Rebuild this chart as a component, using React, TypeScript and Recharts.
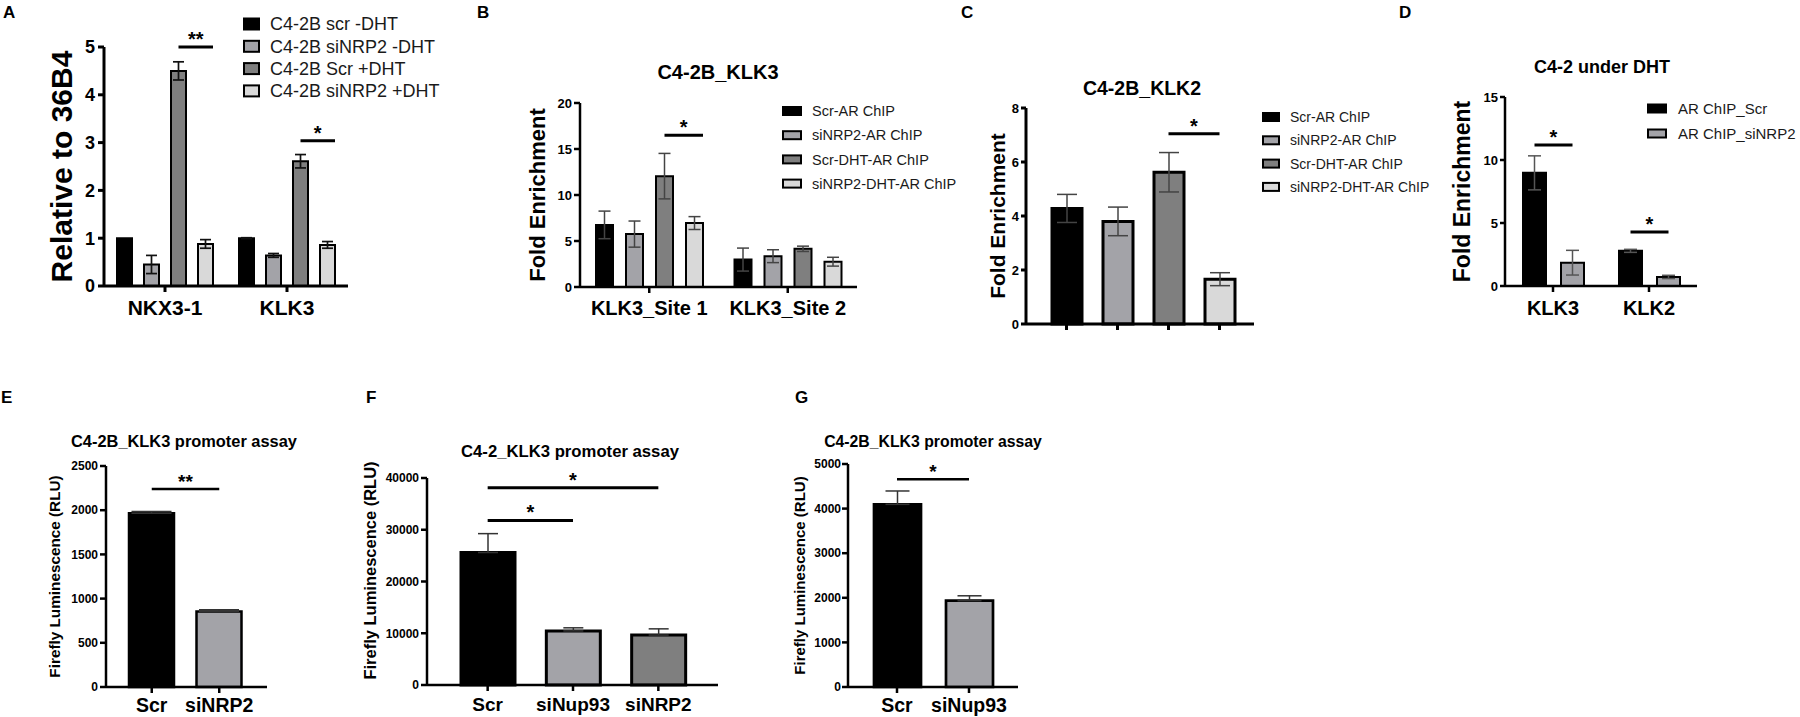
import React from "react";
import {
  BarChart,
  Bar,
  XAxis,
  YAxis,
  ErrorBar,
  Cell,
  LabelList,
  ReferenceLine,
} from "recharts";

const FONT = '"Liberation Sans", Arial, Helvetica, sans-serif';

const BLACK = "#000000";
const GREY = "#a3a3a8";
const DARK_GREY = "#7f7f7f";
const LIGHT_GREY = "#d9d9d9";

// ---- A: expression relative to 36B4
const aGenes = ["NKX3-1", "KLK3"];
const aSeries = ["C4-2B scr -DHT", "C4-2B siNRP2 -DHT", "C4-2B Scr +DHT", "C4-2B siNRP2 +DHT"];
const aScrNoDht = [1.0, 1.0];
const aScrNoDhtErr = [0, 0.01];
const aSiNoDht = [0.45, 0.64];
const aSiNoDhtErr = [0.19, 0.04];
const aScrDht = [4.5, 2.61];
const aScrDhtErr = [0.19, 0.14];
const aSiDht = [0.88, 0.86];
const aSiDhtErr = [0.09, 0.07];
const aSig = ["**", "*"];
const aSigAt = [5.0, 3.04];
const aTicks = [0, 1, 2, 3, 4, 5];

// ---- B: C4-2B_KLK3 ChIP
const bSites = ["KLK3_Site 1", "KLK3_Site 2"];
const bSeries = ["Scr-AR ChIP", "siNRP2-AR ChIP", "Scr-DHT-AR ChIP", "siNRP2-DHT-AR ChIP"];
const bScr = [6.75, 2.98];
const bScrErr = [1.5, 1.25];
const bSi = [5.75, 3.35];
const bSiErr = [1.42, 0.7];
const bScrDht = [12.05, 4.15];
const bScrDhtErr = [2.47, 0.29];
const bSiDht = [6.95, 2.75];
const bSiDhtErr = [0.7, 0.48];
const bSig = ["*", ""];
const bSigAt = [16.5, 0];
const bTicks = [0, 5, 10, 15, 20];

// ---- C: C4-2B_KLK2 ChIP
const cGroups = ["Scr-AR ChIP", "siNRP2-AR ChIP", "Scr-DHT-AR ChIP", "siNRP2-DHT-AR ChIP"];
const cValues = [4.28, 3.8, 5.62, 1.66];
const cErr = [0.52, 0.53, 0.73, 0.24];
const cSigAt = 7.05;
const cTicks = [0, 2, 4, 6, 8];

// ---- D: C4-2 under DHT
const dGenes = ["KLK3", "KLK2"];
const dSeries = ["AR ChIP_Scr", "AR ChIP_siNRP2"];
const dScr = [8.98, 2.79];
const dScrErr = [1.35, 0.12];
const dSi = [1.85, 0.72];
const dSiErr = [0.98, 0.13];
const dSig = ["*", "*"];
const dSigAt = [11.2, 4.29];
const dTicks = [0, 5, 10, 15];

// ---- E: C4-2B_KLK3 promoter assay (siNRP2)
const eGroups = ["Scr", "siNRP2"];
const eValues = [1965, 855];
const eErr = [20, 18];
const eSigAt = 2240;
const eTicks = [0, 500, 1000, 1500, 2000, 2500];

// ---- F: C4-2_KLK3 promoter assay
const fGroups = ["Scr", "siNup93", "siNRP2"];
const fValues = [25600, 10450, 9650];
const fErr = [3650, 600, 1200];
const fSigWideAt = 38100;
const fSigNarrowAt = 31800;
const fTicks = [0, 10000, 20000, 30000, 40000];

// ---- G: C4-2B_KLK3 promoter assay (siNup93)
const gGroups = ["Scr", "siNup93"];
const gValues = [4095, 1935];
const gErr = [300, 110];
const gSigAt = 4660;
const gTicks = [0, 1000, 2000, 3000, 4000, 5000];

const aData = aGenes.map((name, i) => ({
  name,
  s0: aScrNoDht[i], e0: aScrNoDhtErr[i],
  s1: aSiNoDht[i], e1: aSiNoDhtErr[i],
  s2: aScrDht[i], e2: aScrDhtErr[i],
  s3: aSiDht[i], e3: aSiDhtErr[i],
  sig: aSig[i], sigAt: aSigAt[i],
}));

const bData = bSites.map((name, i) => ({
  name,
  s0: bScr[i], e0: bScrErr[i],
  s1: bSi[i], e1: bSiErr[i],
  s2: bScrDht[i], e2: bScrDhtErr[i],
  s3: bSiDht[i], e3: bSiDhtErr[i],
  sig: bSig[i], sigAt: bSigAt[i],
}));

const cData = cGroups.map((name, i) => ({ name, value: cValues[i], err: cErr[i] }));

const dData = dGenes.map((name, i) => ({
  name,
  s0: dScr[i], e0: dScrErr[i],
  s1: dSi[i], e1: dSiErr[i],
  sig: dSig[i], sigAt: dSigAt[i],
}));

// promoter assays only show the upper error
const eData = eGroups.map((name, i) => ({ name, value: eValues[i], err: [0, eErr[i]] }));
const fData = fGroups.map((name, i) => ({ name, value: fValues[i], err: [0, fErr[i]] }));
const gData = gGroups.map((name, i) => ({ name, value: gValues[i], err: [0, gErr[i]] }));

const FOUR_COLORS = [BLACK, GREY, DARK_GREY, LIGHT_GREY];
const F_COLORS = [BLACK, GREY, DARK_GREY];

// plot frame in page pixels: y-axis x, top tick y, right end, zero line y
type Frame = { x0: number; y0: number; x1: number; y1: number; yW: number; xH: number };
const M_TOP = 40;
const M_RIGHT = 6;

function box(f: Frame) {
  return {
    style: { position: "absolute" as const, left: f.x0 - f.yW, top: f.y0 - M_TOP },
    width: f.x1 - f.x0 + f.yW + M_RIGHT,
    height: f.y1 - f.y0 + M_TOP + f.xH,
    margin: { top: M_TOP, right: M_RIGHT, bottom: 0, left: 0 },
  };
}

const lineStyle = (w: number) => ({ stroke: "#000", strokeWidth: w });
const tickFont = (size: number) => ({ fontSize: size, fontWeight: 700, fill: "#000", fontFamily: FONT });
const yLabel = (value: string, f: Frame, x: number, size: number, dy = 0) => ({
  value,
  angle: -90,
  position: "insideLeft" as const,
  offset: x - (f.x0 - f.yW),
  dy,
  style: { textAnchor: "middle" as const, fontSize: size, fontWeight: 700, fill: "#000", fontFamily: FONT },
});

// significance bar drawn from a grouped bar to its right-hand neighbour
const sigBracket =
  (rows: any[], key: string, gap: number, toEdge: boolean, lineW: number, size: number) =>
  (props: any) => {
    const row = rows[props.index];
    if (!row || !row.sig) return null;
    const vb = props.viewBox || props;
    const { x, y, width, height } = vb;
    const perUnit = height / row[key];
    const ly = y + height - row.sigAt * perUnit;
    const x1 = x + width / 2;
    const x2 = toEdge ? x + 2 * width + gap : x + 1.5 * width + gap;
    return (
      <g>
        <line x1={x1} x2={x2} y1={ly} y2={ly} stroke="#000" strokeWidth={lineW} />
        <text x={(x1 + x2) / 2} y={ly - 1} textAnchor="middle" fontSize={size} fontWeight={700} fontFamily={FONT} fill="#000">
          {row.sig}
        </text>
      </g>
    );
  };

const starLabel = (value: string, size: number) => ({
  value,
  position: "top" as const,
  offset: 1,
  fontSize: size,
  fontWeight: 700,
  fill: "#000",
  fontFamily: FONT,
});

const FA: Frame = { x0: 104, y0: 47, x1: 348, y1: 286, yW: 64, xH: 45 };
const FB: Frame = { x0: 580, y0: 103, x1: 857, y1: 287, yW: 60, xH: 45 };
const FC: Frame = { x0: 1026, y0: 108, x1: 1254, y1: 324, yW: 40, xH: 20 };
const FD: Frame = { x0: 1505, y0: 97, x1: 1697, y1: 286, yW: 55, xH: 45 };
const FE: Frame = { x0: 106, y0: 466, x1: 267, y1: 687, yW: 65, xH: 30 };
const FF: Frame = { x0: 427, y0: 478, x1: 718, y1: 685, yW: 70, xH: 32 };
const FG: Frame = { x0: 848, y0: 464, x1: 1018, y1: 687, yW: 62, xH: 30 };

function LegendBox({ x, yc, step, w, h, textX, size, items, colors }: any) {
  return (
    <g>
      {items.map((name: string, i: number) => {
        const cy = yc + i * step;
        const fill = colors[i];
        return (
          <g key={name}>
            {fill === BLACK ? (
              <rect x={x} y={cy - h / 2} width={w} height={h} fill={BLACK} />
            ) : (
              <rect x={x + 1} y={cy - h / 2 + 1} width={w - 2} height={h - 2} fill={fill} stroke="#000" strokeWidth={2} />
            )}
            <text x={textX} y={cy + size * 0.36} fontSize={size} fontFamily={FONT} fill="#1a1a1a">
              {name}
            </text>
          </g>
        );
      })}
    </g>
  );
}

function Overlay() {
  const letter = (t: string, x: number, y: number) => (
    <text x={x} y={y} fontSize={17} fontWeight={700} fontFamily={FONT} fill="#000">
      {t}
    </text>
  );
  const title = (t: string, x: number, capMid: number, size: number) => (
    <text x={x} y={capMid + size * 0.358} textAnchor="middle" fontSize={size} fontWeight={700} fontFamily={FONT} fill="#000">
      {t}
    </text>
  );
  return (
    <svg width={1800} height={717} style={{ position: "absolute", left: 0, top: 0, pointerEvents: "none" }}>
      {letter("A", 3, 18)}
      {letter("B", 477, 18)}
      {letter("C", 961, 18)}
      {letter("D", 1399, 18)}
      {letter("E", 1, 403)}
      {letter("F", 366, 403)}
      {letter("G", 795, 403)}
      {title("C4-2B_KLK3", 718, 72, 20)}
      {title("C4-2B_KLK2", 1142, 88, 19.5)}
      {title("C4-2 under DHT", 1602, 67, 18)}
      {title("C4-2B_KLK3 promoter assay", 184, 441, 16.4)}
      {title("C4-2_KLK3 promoter assay", 570, 451, 16.7)}
      {title("C4-2B_KLK3 promoter assay", 933, 441, 15.8)}
      <LegendBox x={243} yc={24} step={22.3} w={17} h={13} textX={270} size={18} items={aSeries} colors={FOUR_COLORS} />
      <LegendBox x={782} yc={111} step={24.2} w={20} h={10} textX={812} size={14.5} items={bSeries} colors={FOUR_COLORS} />
      <LegendBox x={1262} yc={117} step={23.3} w={18} h={10} textX={1290} size={14} items={cGroups} colors={FOUR_COLORS} />
      <LegendBox x={1647} yc={108.5} step={25} w={20} h={10} textX={1678} size={15} items={dSeries} colors={FOUR_COLORS} />
    </svg>
  );
}

export default function App() {
  const bA = box(FA);
  const bB = box(FB);
  const bC = box(FC);
  const bD = box(FD);
  const bE = box(FE);
  const bF = box(FF);
  const bG = box(FG);

  return (
    <div style={{ position: "absolute", left: 0, top: 0, width: 1800, height: 717, background: "#fff", overflow: "hidden", fontFamily: FONT }}>
      {/* A */}
      <div style={bA.style}>
        <BarChart width={bA.width} height={bA.height} data={aData} margin={bA.margin} barGap={12}>
          <XAxis dataKey="name" height={FA.xH} interval={0} tickSize={6} tickMargin={8} axisLine={lineStyle(3)} tickLine={lineStyle(3)} tick={tickFont(21)} />
          <YAxis width={FA.yW} domain={[0, 5]} ticks={aTicks} tickSize={6} tickMargin={3} axisLine={lineStyle(3)} tickLine={lineStyle(3)} tick={tickFont(18)} label={yLabel("Relative to 36B4", FA, 61, 30)} />
          <Bar dataKey="s0" fill={BLACK} stroke="#000" strokeWidth={2} barSize={15} isAnimationActive={false}>
            <ErrorBar dataKey="e0" width={5.5} stroke="#111" strokeWidth={1.7} />
          </Bar>
          <Bar dataKey="s1" fill={GREY} stroke="#000" strokeWidth={2} barSize={15} isAnimationActive={false}>
            <ErrorBar dataKey="e1" width={5.5} stroke="#111" strokeWidth={1.7} />
          </Bar>
          <Bar dataKey="s2" fill={DARK_GREY} stroke="#000" strokeWidth={2} barSize={15} isAnimationActive={false}>
            <ErrorBar dataKey="e2" width={5.5} stroke="#111" strokeWidth={1.7} />
            <LabelList content={sigBracket(aData, "s2", 12, true, 3, 20)} />
          </Bar>
          <Bar dataKey="s3" fill={LIGHT_GREY} stroke="#000" strokeWidth={2} barSize={15} isAnimationActive={false}>
            <ErrorBar dataKey="e3" width={5.5} stroke="#111" strokeWidth={1.7} />
          </Bar>
        </BarChart>
      </div>

      {/* B */}
      <div style={bB.style}>
        <BarChart width={bB.width} height={bB.height} data={bData} margin={bB.margin} barGap={13}>
          <XAxis dataKey="name" height={FB.xH} interval={0} tickSize={6} tickMargin={8} axisLine={lineStyle(2.5)} tickLine={lineStyle(2.5)} tick={tickFont(20)} />
          <YAxis width={FB.yW} domain={[0, 20]} ticks={bTicks} tickSize={6} tickMargin={2} axisLine={lineStyle(2.5)} tickLine={lineStyle(2.5)} tick={tickFont(13)} label={yLabel("Fold Enrichment", FB, 537.5, 22)} />
          <Bar dataKey="s0" fill={BLACK} stroke="#000" strokeWidth={2} barSize={17} isAnimationActive={false}>
            <ErrorBar dataKey="e0" width={6} stroke="#444" strokeWidth={1.5} />
          </Bar>
          <Bar dataKey="s1" fill={GREY} stroke="#000" strokeWidth={2} barSize={17} isAnimationActive={false}>
            <ErrorBar dataKey="e1" width={6} stroke="#444" strokeWidth={1.5} />
          </Bar>
          <Bar dataKey="s2" fill={DARK_GREY} stroke="#000" strokeWidth={2} barSize={17} isAnimationActive={false}>
            <ErrorBar dataKey="e2" width={6} stroke="#444" strokeWidth={1.5} />
            <LabelList content={sigBracket(bData, "s2", 13, true, 3, 20)} />
          </Bar>
          <Bar dataKey="s3" fill={LIGHT_GREY} stroke="#000" strokeWidth={2} barSize={17} isAnimationActive={false}>
            <ErrorBar dataKey="e3" width={6} stroke="#444" strokeWidth={1.5} />
          </Bar>
        </BarChart>
      </div>

      {/* C */}
      <div style={bC.style}>
        <BarChart width={bC.width} height={bC.height} data={cData} margin={bC.margin}>
          <XAxis dataKey="name" height={FC.xH} interval={0} tickSize={6} padding={{ left: 15, right: 9 }} tickFormatter={() => ""} axisLine={lineStyle(3)} tickLine={lineStyle(3)} tick={tickFont(12)} />
          <YAxis width={FC.yW} domain={[0, 8]} ticks={cTicks} tickSize={5} tickMargin={2} axisLine={lineStyle(3)} tickLine={lineStyle(3)} tick={tickFont(13)} label={yLabel("Fold Enrichment", FC, 998, 21)} />
          <Bar dataKey="value" stroke="#000" strokeWidth={3} barSize={30} isAnimationActive={false}>
            {cData.map((d, i) => (
              <Cell key={d.name} fill={FOUR_COLORS[i]} />
            ))}
            <ErrorBar dataKey="err" width={10} stroke="#444" strokeWidth={1.5} />
          </Bar>
          <ReferenceLine
            segment={[{ x: cGroups[2], y: cSigAt }, { x: cGroups[3], y: cSigAt }]}
            stroke="#000"
            strokeWidth={3}
            ifOverflow="visible"
            label={starLabel("*", 20)}
          />
        </BarChart>
      </div>

      {/* D */}
      <div style={bD.style}>
        <BarChart width={bD.width} height={bD.height} data={dData} margin={bD.margin} barGap={15}>
          <XAxis dataKey="name" height={FD.xH} interval={0} tickSize={6} tickMargin={9} axisLine={lineStyle(2.5)} tickLine={lineStyle(2.5)} tick={tickFont(20)} />
          <YAxis width={FD.yW} domain={[0, 15]} ticks={dTicks} tickSize={5} tickMargin={2} axisLine={lineStyle(2.5)} tickLine={lineStyle(2.5)} tick={tickFont(13)} label={yLabel("Fold Enrichment", FD, 1462, 23)} />
          <Bar dataKey="s0" fill={BLACK} stroke="#000" strokeWidth={2} barSize={23} isAnimationActive={false}>
            <ErrorBar dataKey="e0" width={6.5} stroke="#555" strokeWidth={1.5} />
            <LabelList content={sigBracket(dData, "s0", 15, false, 3, 20)} />
          </Bar>
          <Bar dataKey="s1" fill={GREY} stroke="#000" strokeWidth={2} barSize={23} isAnimationActive={false}>
            <ErrorBar dataKey="e1" width={6.5} stroke="#555" strokeWidth={1.5} />
          </Bar>
        </BarChart>
      </div>

      {/* E */}
      <div style={bE.style}>
        <BarChart width={bE.width} height={bE.height} data={eData} margin={bE.margin}>
          <XAxis dataKey="name" height={FE.xH} interval={0} tickSize={6} tickMargin={5} padding={{ left: 12, right: 14 }} axisLine={lineStyle(2.5)} tickLine={lineStyle(2.5)} tick={tickFont(19.5)} />
          <YAxis width={FE.yW} domain={[0, 2500]} ticks={eTicks} tickSize={6} tickMargin={2} axisLine={lineStyle(2.5)} tickLine={lineStyle(2.5)} tick={tickFont(12)} label={yLabel("Firefly Luminescence (RLU)", FE, 55, 15.3)} />
          <Bar dataKey="value" stroke="#000" strokeWidth={2.5} barSize={45} isAnimationActive={false}>
            {eData.map((d, i) => (
              <Cell key={d.name} fill={FOUR_COLORS[i]} />
            ))}
            <ErrorBar dataKey="err" width={20} stroke="#333" strokeWidth={1.5} />
          </Bar>
          <ReferenceLine segment={[{ x: eGroups[0], y: eSigAt }, { x: eGroups[1], y: eSigAt }]} stroke="#000" strokeWidth={2.5} ifOverflow="visible" label={starLabel("**", 19)} />
        </BarChart>
      </div>

      {/* F */}
      <div style={bF.style}>
        <BarChart width={bF.width} height={bF.height} data={fData} margin={bF.margin}>
          <XAxis dataKey="name" height={FF.xH} interval={0} tickSize={6} tickMargin={7} padding={{ left: 18, right: 17 }} axisLine={lineStyle(2.5)} tickLine={lineStyle(2.5)} tick={tickFont(19)} />
          <YAxis width={FF.yW} domain={[0, 40000]} ticks={fTicks} tickSize={6} tickMargin={2} axisLine={lineStyle(2.5)} tickLine={lineStyle(2.5)} tick={tickFont(12)} label={yLabel("Firefly Luminescence (RLU)", FF, 370, 16.5, -11)} />
          <Bar dataKey="value" stroke="#000" strokeWidth={3} barSize={54} isAnimationActive={false}>
            {fData.map((d, i) => (
              <Cell key={d.name} fill={F_COLORS[i]} />
            ))}
            <ErrorBar dataKey="err" width={10} stroke="#333" strokeWidth={1.5} />
          </Bar>
          <ReferenceLine segment={[{ x: fGroups[0], y: fSigWideAt }, { x: fGroups[2], y: fSigWideAt }]} stroke="#000" strokeWidth={3} ifOverflow="visible" label={starLabel("*", 20)} />
          <ReferenceLine segment={[{ x: fGroups[0], y: fSigNarrowAt }, { x: fGroups[1], y: fSigNarrowAt }]} stroke="#000" strokeWidth={3} ifOverflow="visible" label={starLabel("*", 20)} />
        </BarChart>
      </div>

      {/* G */}
      <div style={bG.style}>
        <BarChart width={bG.width} height={bG.height} data={gData} margin={bG.margin}>
          <XAxis dataKey="name" height={FG.xH} interval={0} tickSize={6} tickMargin={5} padding={{ left: 13, right: 13 }} axisLine={lineStyle(2.5)} tickLine={lineStyle(2.5)} tick={tickFont(19.5)} />
          <YAxis width={FG.yW} domain={[0, 5000]} ticks={gTicks} tickSize={6} tickMargin={1} axisLine={lineStyle(2.5)} tickLine={lineStyle(2.5)} tick={tickFont(12)} label={yLabel("Firefly Luminescence (RLU)", FG, 800, 15)} />
          <Bar dataKey="value" stroke="#000" strokeWidth={2.7} barSize={47} isAnimationActive={false}>
            {gData.map((d, i) => (
              <Cell key={d.name} fill={FOUR_COLORS[i]} />
            ))}
            <ErrorBar dataKey="err" width={12} stroke="#333" strokeWidth={1.5} />
          </Bar>
          <ReferenceLine segment={[{ x: gGroups[0], y: gSigAt }, { x: gGroups[1], y: gSigAt }]} stroke="#000" strokeWidth={2.5} ifOverflow="visible" label={starLabel("*", 19)} />
        </BarChart>
      </div>

      <Overlay />
    </div>
  );
}
